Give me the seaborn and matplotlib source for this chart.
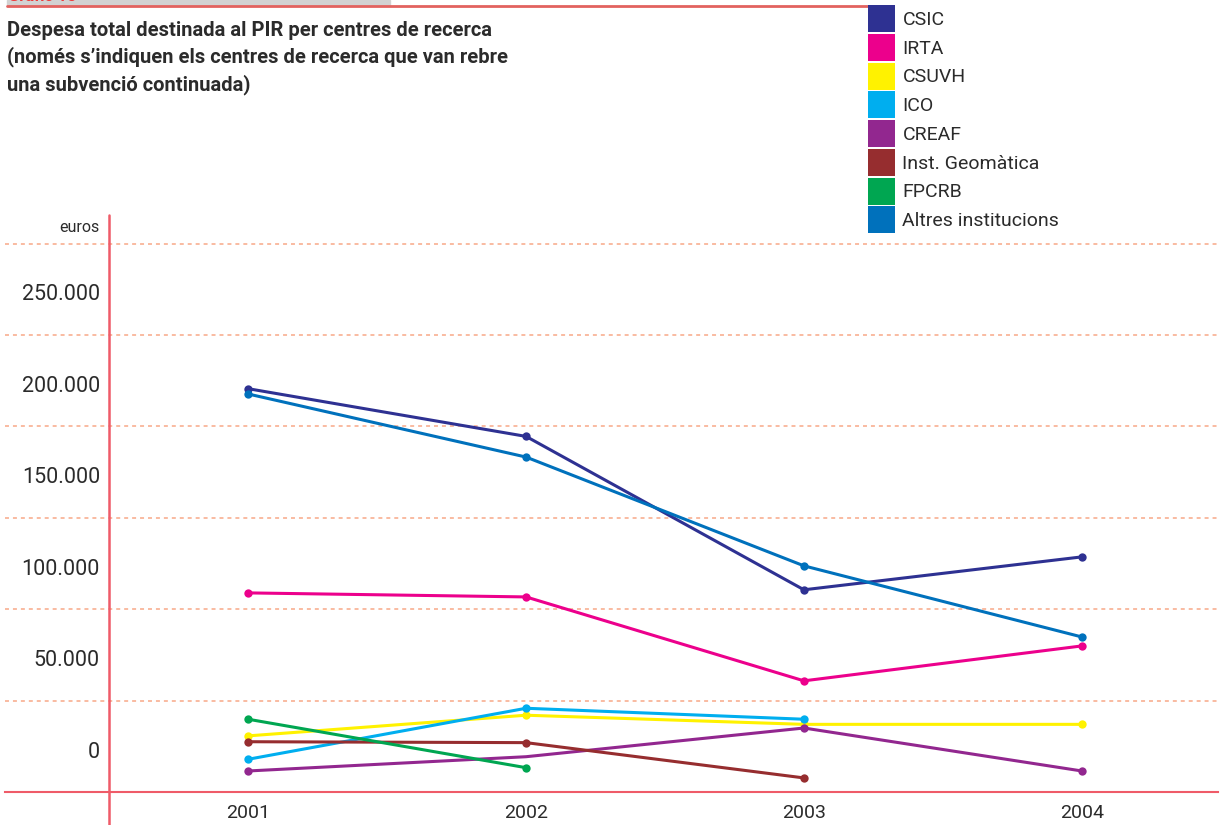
import numpy as np
import pandas as pd
import matplotlib
matplotlib.use("Agg")
import matplotlib.pyplot as plt
import matplotlib.transforms as mtransforms
from matplotlib.patches import Patch, Rectangle
import seaborn as sns

# ------------------------------
# Data (euros per year)
# ------------------------------
years = [2001, 2002, 2003, 2004]
centres = ["CSIC", "IRTA", "CSUVH", "ICO", "CREAF", "Inst. Geomàtica", "FPCRB", "Altres institucions"]
colors = ["#2e3192", "#ec008c", "#fff200", "#00aeef", "#92278f", "#962d2f", "#00a651", "#0071bc"]

csic = [220600, 194500, 110600, 128600]
irta = [108900, 106700, 60800, 79900]
csuvh = [30700, 42000, 37000, 37000]
ico = [17900, 45800, 39800, np.nan]
creaf = [11500, 19300, 35000, 11500]
geomatica = [27500, 27000, 7700, np.nan]
fpcrb = [39800, 13300, np.nan, np.nan]
altres = [217700, 183200, 123700, 84800]

grid_vals = [0, 50000, 100000, 150000, 200000, 250000, 300000]
grid_labels = ["0", "50.000", "100.000", "150.000", "200.000", "250.000", "euros"]

title = ("Despesa total destinada al PIR per centres de recerca\n"
         "(només s’indiquen els centres de recerca que van rebre\n"
         "una subvenció continuada)")

series = dict(zip(centres, [csic, irta, csuvh, ico, creaf, geomatica, fpcrb, altres]))
df = pd.DataFrame(series, index=years)

RED = "#ef5b68"
GRID = "#f9b59a"
TXT = "#2b2b2b"
FONT = ["Roboto", "DejaVu Sans"]

sns.set_style("white")
plt.rcParams["font.family"] = FONT

fig = plt.figure(figsize=(12.23, 8.25), dpi=100)
ax = fig.add_axes([5 / 1223, 33 / 825, 1213 / 1223, 577 / 825])

# gridlines
for v in grid_vals[1:]:
    ax.axhline(v, color=GRID, lw=1.3, ls=(0, (2.2, 2.2)), zorder=1)

# lines
for name, col in zip(centres, colors):
    s = df[name].dropna()
    mk = None
    if name == "CREAF":
        mk = [0, 2, 3]
    sns.lineplot(x=s.index, y=s.values, ax=ax, color=col, lw=2.2,
                 marker="o", markersize=6, markeredgewidth=0,
                 markevery=mk, zorder=3)

ax.set_xlim(2000.125, 2004.49)
ax.set_ylim(0, 315600)

for side in ["top", "right", "left"]:
    ax.spines[side].set_visible(False)
ax.spines["bottom"].set_color(RED)
ax.spines["bottom"].set_linewidth(1.5)

# vertical axis line
ax.axvline(2000.5, ymin=-0.06, ymax=1, color=RED, lw=1.8, clip_on=False, zorder=2)

ax.set_xticks(years)
ax.set_xticklabels([str(y) for y in years], fontsize=14, color=TXT)
ax.tick_params(axis="x", direction="inout", length=10, width=1.5, color=RED, pad=4)
ax.set_yticks([])
ax.set_xlabel("")
ax.set_ylabel("")

# y labels sitting above their gridlines
ytrans = mtransforms.blended_transform_factory(ax.transAxes, ax.transData)
for v, lab in zip(grid_vals, grid_labels):
    if lab == "euros":
        tr = mtransforms.offset_copy(ytrans, fig=fig, x=0, y=16, units="dots")
        ax.text(95 / 1213, v, lab, transform=tr, ha="right", va="center",
                fontsize=11.5, color=TXT)
    else:
        tr = mtransforms.offset_copy(ytrans, fig=fig, x=0, y=40, units="dots")
        ax.text(95 / 1213, v, lab, transform=tr, ha="right", va="center",
                fontsize=15.5, color=TXT)

# title
fig.text(7 / 1223, 1 - 21 / 825, title, ha="left", va="top", fontsize=14.5,
         fontweight="bold", color=TXT, linespacing=1.42)

# header decoration
fig.patches.append(Rectangle((7 / 1223, 1 - 5 / 825), 383 / 1223, 5 / 825,
                             transform=fig.transFigure, color="#d2d2d2", zorder=0))
fig.lines.append(plt.Line2D([7 / 1223, 888 / 1223], [1 - 5.5 / 825, 1 - 5.5 / 825],
                            transform=fig.transFigure, color="#e2625f", lw=2))
fig.text(8 / 1223, 1 - 1 / 825, "Gràfic 15", ha="left", va="baseline", fontsize=12,
         color="#ee3a3a", fontweight="bold")

# legend
handles = [Patch(facecolor=c, edgecolor="none") for c in colors]
fig.legend(handles, centres, loc="upper left", bbox_to_anchor=(868 / 1223, 1 - 5 / 825),
           frameon=False, fontsize=14, handlelength=1.39, handleheight=1.76,
           labelspacing=0.09, handletextpad=0.38, borderpad=0, borderaxespad=0,
           labelcolor=TXT)

fig.savefig("out.png", dpi=100)
